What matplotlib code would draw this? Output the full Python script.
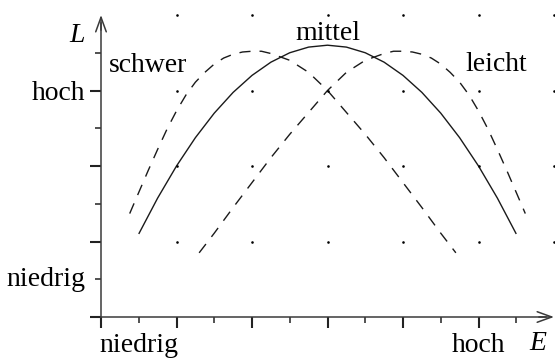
import matplotlib
matplotlib.use("Agg")
import matplotlib.pyplot as plt
from matplotlib.patches import FancyArrowPatch

# ---- data ----
mittel_x = [0.5, 0.75, 1.0, 1.25, 1.5, 1.75, 2.0, 2.25, 2.5, 2.75, 3.0,
            3.25, 3.5, 3.75, 4.0, 4.25, 4.5, 4.75, 5.0, 5.25, 5.5]
mittel_y = [1.10, 1.575, 2.00, 2.375, 2.70, 2.975, 3.20, 3.375, 3.50, 3.575, 3.60,
            3.575, 3.50, 3.375, 3.20, 2.975, 2.70, 2.375, 2.00, 1.575, 1.10]

schwer_x = [0.38, 0.5, 0.625, 0.75, 0.875, 1.0, 1.125, 1.25, 1.375, 1.5, 1.625,
            1.75, 1.875, 2.0, 2.125, 2.25, 2.5, 2.75, 3.0, 3.25, 3.5, 3.75,
            4.0, 4.25, 4.5, 4.7]
schwer_y = [1.37, 1.65, 1.94, 2.22, 2.49, 2.73, 2.94, 3.11, 3.24, 3.35, 3.43,
            3.48, 3.51, 3.52, 3.52, 3.49, 3.40, 3.24, 3.00, 2.71, 2.42, 2.11,
            1.78, 1.45, 1.11, 0.85]

leicht_x = [1.3, 1.5, 1.75, 2.0, 2.25, 2.5, 2.75, 3.0, 3.25, 3.5, 3.75, 3.875,
            4.0, 4.125, 4.25, 4.375, 4.5, 4.625, 4.75, 4.875, 5.0, 5.125,
            5.25, 5.375, 5.5, 5.62]
leicht_y = [0.85, 1.11, 1.45, 1.78, 2.11, 2.42, 2.71, 3.00, 3.24, 3.40, 3.49, 3.52,
            3.52, 3.51, 3.48, 3.43, 3.35, 3.24, 3.11, 2.94, 2.73, 2.49,
            2.22, 1.94, 1.65, 1.37]

x_major = [0, 1, 2, 3, 4, 5]
x_minor = [0.5, 1.5, 2.5, 3.5, 4.5, 5.5]
y_major = [0, 1, 2, 3]
y_minor = [0.5, 1.5, 2.5, 3.5]
grid_x = [1, 2, 3, 4, 5, 6]
grid_y = [1, 2, 3, 4]

x_labels = ["niedrig", "hoch"]
x_label_pos = [0.5, 5.0]
y_labels = ["niedrig", "hoch"]
y_label_pos = [0.41, 2.874]

# ---- figure ----
plt.rcParams['font.family'] = ['Liberation Serif', 'DejaVu Serif']
fig = plt.figure(figsize=(5.55, 3.59), dpi=100)
ax = fig.add_axes([0, 0, 1, 1])
ax.set_xlim(-101 / 75.5, (555 - 101) / 75.5)
ax.set_ylim((317 - 359) / 75.5, 317 / 75.5)
ax.patch.set_visible(False)

axis_col = '#3a3a3a'
for s in ['top', 'right']:
    ax.spines[s].set_visible(False)
ax.spines['left'].set_position(('data', 0))
ax.spines['bottom'].set_position(('data', 0))
ax.spines['left'].set_bounds(0, 3.9)
ax.spines['bottom'].set_bounds(0, 5.9)
for s in ['left', 'bottom']:
    ax.spines[s].set_color(axis_col)
    ax.spines[s].set_linewidth(1.1)

ax.set_xticks(x_major)
ax.set_xticks(x_minor, minor=True)
ax.set_yticks(y_major)
ax.set_yticks(y_minor, minor=True)
ax.tick_params(which='major', direction='out', length=8, width=1.5,
               color='#222222', labelbottom=False, labelleft=False)
ax.tick_params(which='minor', direction='out', length=4.3, width=1.1,
               color='#222222')

# arrowheads
ax.add_patch(FancyArrowPatch((5.8, 0), (6.0, 0), arrowstyle='->,head_length=1.05,head_width=0.38',
                             mutation_scale=10, color=axis_col, lw=1.1,
                             shrinkA=0, shrinkB=0, clip_on=False))
ax.add_patch(FancyArrowPatch((0, 3.8), (0, 4.0), arrowstyle='->,head_length=1.05,head_width=0.38',
                             mutation_scale=10, color=axis_col, lw=1.1,
                             shrinkA=0, shrinkB=0, clip_on=False))

# grid dots
gx = [x for x in grid_x for y in grid_y]
gy = [y for x in grid_x for y in grid_y]
ax.scatter(gx, gy, s=3.5, color='black', linewidths=0, zorder=3)

# curves
ax.plot(mittel_x, mittel_y, color='#1a1a1a', lw=1.0, solid_capstyle='butt')
ax.plot(schwer_x, schwer_y, color='#1a1a1a', lw=1.0, dashes=(8, 6.5))
ax.plot(leicht_x, leicht_y, color='#1a1a1a', lw=1.0, dashes=(8, 6.5))

fs = 20
# curve labels
ax.text(0.106, 3.245, "schwer", fontsize=fs, ha='left', va='baseline')
ax.text(3.0, 3.67, "mittel", fontsize=fs, ha='center', va='baseline')
ax.text(5.23, 3.26, "leicht", fontsize=fs, ha='center', va='baseline')

# axis labels
for lab, xp in zip(x_labels, x_label_pos):
    ax.text(xp, -0.47, lab, fontsize=fs, ha='center', va='baseline')
for lab, yp in zip(y_labels, y_label_pos):
    ax.text(-0.21, yp, lab, fontsize=fs, ha='right', va='baseline')
ax.text(5.79, -0.44, "E", fontsize=fs, ha='center', va='baseline', style='italic')
ax.text(-0.32, 3.64, "L", fontsize=fs, ha='center', va='baseline', style='italic')

fig.savefig("out.png", dpi=100)
